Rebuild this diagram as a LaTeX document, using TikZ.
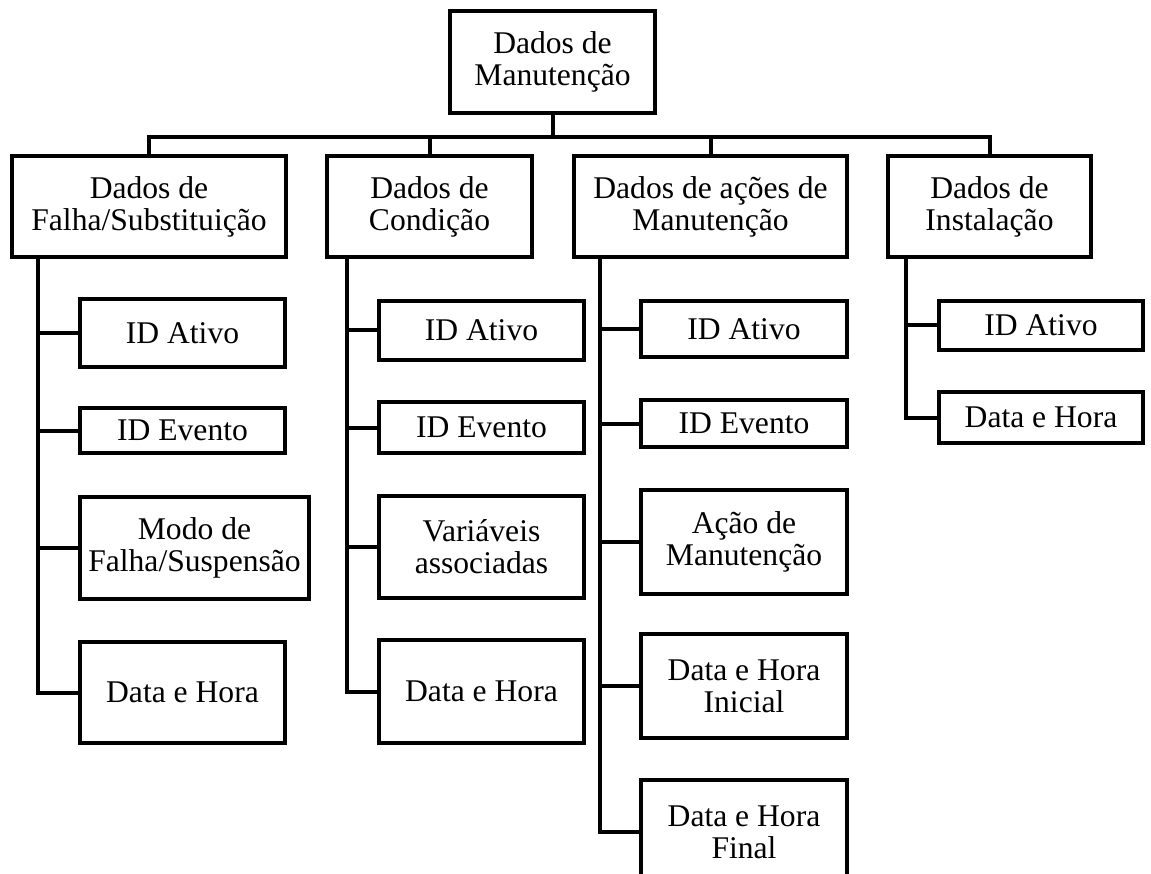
\documentclass[tikz,border=0pt]{standalone}
\usepackage{fontspec}
\setmainfont{Liberation Serif}
\usetikzlibrary{calc}

\begin{document}
\begin{tikzpicture}[x=1pt,y=-1pt,
        box/.style={draw, line width=4pt, inner sep=0pt, align=center,
            font=\fontsize{31.6pt}{32pt}\selectfont},
        link/.style={line width=4pt}]
        \useasboundingbox (0,0) rectangle (1151,874);

        % Root
        \node[box, minimum width=205pt, minimum height=102pt] (top) at (552.5,62) {Dados de\\Manutenção};

        % First level
        \node[box, minimum width=274pt, minimum height=101pt] (c1) at (149,206.5) {Dados de\\Falha/Substituição};
        \node[box, minimum width=205pt, minimum height=101pt] (c2) at (429.5,206.5) {Dados de\\Condição};
        \node[box, minimum width=273pt, minimum height=101pt] (c3) at (710.5,206.5) {Dados de ações de\\Manutenção};
        \node[box, minimum width=203pt, minimum height=101pt] (c4) at (989.5,206.5) {Dados de\\Instalação};

        \coordinate (bus) at ($(top.south)+(0,22)$);
        \draw[link] (top.south) -- (bus);
        \draw[link] (c1.north) |- (bus) -| (c4.north);
        \draw[link] (c2.north) -- (c2.north |- bus);
        \draw[link] (c3.north) -- (c3.north |- bus);

        % Falha/Substituicao
        \node[box, minimum width=205pt, minimum height=68pt] (a1) at (182.5,333) {ID Ativo};
        \node[box, minimum width=205pt, minimum height=45pt] (a2) at (182.5,430.5) {ID Evento};
        \node[box, minimum width=229pt, minimum height=102pt] (a3) at (194.5,548) {Modo de\\Falha/Suspensão};
        \node[box, minimum width=205pt, minimum height=101pt] (a4) at (182.5,692.5) {Data e Hora};

        % Condicao
        \node[box, minimum width=205pt, minimum height=59pt] (b1) at (481.5,330.5) {ID Ativo};
        \node[box, minimum width=205pt, minimum height=51pt] (b2) at (481.5,427.5) {ID Evento};
        \node[box, minimum width=205pt, minimum height=102pt] (b3) at (481.5,547) {Variáveis\\associadas};
        \node[box, minimum width=205pt, minimum height=103pt] (b4) at (481.5,691.5) {Data e Hora};

        % Acoes de Manutencao
        \node[box, minimum width=206pt, minimum height=56pt] (d1) at (744,329) {ID Ativo};
        \node[box, minimum width=206pt, minimum height=47pt] (d2) at (744,423.5) {ID Evento};
        \node[box, minimum width=206pt, minimum height=104pt] (d3) at (744,542) {Ação de\\Manutenção};
        \node[box, minimum width=206pt, minimum height=104pt] (d4) at (744,686) {Data e Hora\\Inicial};
        \node[box, minimum width=206pt, minimum height=104pt] (d5) at (744,832) {Data e Hora\\Final};

        % Instalacao
        \node[box, minimum width=204pt, minimum height=49pt] (e1) at (1041,325.5) {ID Ativo};
        \node[box, minimum width=204pt, minimum height=51pt] (e2) at (1041,417.5) {Data e Hora};

        % Trunks
        \coordinate (t1) at ($(c1.south west)+(28,0)$);
        \coordinate (t2) at ($(c2.south west)+(22,0)$);
        \coordinate (t3) at ($(c3.south west)+(28,0)$);
        \coordinate (t4) at ($(c4.south west)+(20,0)$);
        \draw[link] (t1) |- (a4.west);
        \draw[link] (t2) |- (b4.west);
        \draw[link] (t3) |- (d5.west);
        \draw[link] (t4) |- (e2.west);

        % Branches
        \foreach \n in {a1,a2,a3} \draw[link] (\n.west) -- (\n.west -| t1);
        \foreach \n in {b1,b2,b3} \draw[link] (\n.west) -- (\n.west -| t2);
        \foreach \n in {d1,d2,d3,d4} \draw[link] (\n.west) -- (\n.west -| t3);
        \draw[link] (e1.west) -- (e1.west -| t4);
    \end{tikzpicture}
\end{document}
